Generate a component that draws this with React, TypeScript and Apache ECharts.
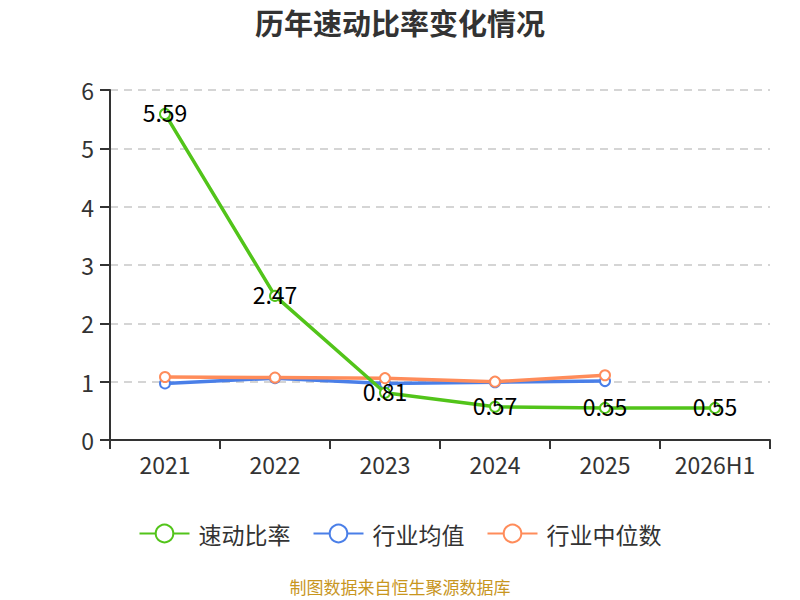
import React, { useEffect, useRef } from "react";
import * as echarts from "echarts";

const categories = ["2021", "2022", "2023", "2024", "2025", "2026H1"];
const quickRatio = [5.59, 2.47, 0.81, 0.57, 0.55, 0.55];
const industryAvg = [0.97, 1.06, 0.97, 0.99, 1.01];
const industryMedian = [1.08, 1.07, 1.06, 1.0, 1.11];
const yTicks = { min: 0, max: 6, interval: 1 };

const FONT = "'Noto Sans CJK SC', 'Noto Sans', sans-serif";

export default function App() {
  const ref = useRef<HTMLDivElement>(null);
  useEffect(() => {
    document.body.style.margin = "0";
    if (!ref.current) return;
    const chart = echarts.init(ref.current, undefined, { renderer: "svg" });
    chart.setOption({
      animation: false,
      textStyle: { fontFamily: FONT },
      title: {
        text: "历年速动比率变化情况",
        left: "center",
        top: 2,
        textStyle: { fontSize: 29, fontWeight: "bold", color: "#333", fontFamily: FONT },
      },
      grid: { left: 110, right: 30, top: 90, bottom: 160 },
      legend: {
        bottom: 50,
        left: "center",
        itemWidth: 50,
        itemHeight: 22,
        itemGap: 22,
        textStyle: { fontSize: 23, color: "#333", fontFamily: FONT, padding: [0, 0, 0, 4] },
        data: ["速动比率", "行业均值", "行业中位数"],
      },
      graphic: [
        {
          type: "text",
          left: "center",
          top: 578,
          style: {
            text: "制图数据来自恒生聚源数据库",
            fill: "#c8961e",
            fontSize: 17,
            fontFamily: FONT,
          },
        },
      ],
      xAxis: {
        type: "category",
        data: categories,
        axisLine: { lineStyle: { color: "#333", width: 2 } },
        axisTick: { show: true, length: 9, lineStyle: { color: "#333", width: 2 } },
        axisLabel: { fontSize: 23, color: "#333", margin: 12, fontFamily: FONT },
      },
      yAxis: {
        type: "value",
        min: yTicks.min,
        max: yTicks.max,
        interval: yTicks.interval,
        axisLine: { show: true, lineStyle: { color: "#333", width: 2 } },
        axisTick: { show: true, length: 10, lineStyle: { color: "#333", width: 2 } },
        axisLabel: { fontSize: 23, color: "#333", margin: 16, fontFamily: FONT },
        splitLine: { lineStyle: { type: [8, 6], color: "#c8c8c8", width: 1.5 } },
      },
      series: [
        {
          name: "速动比率",
          type: "line",
          data: quickRatio,
          symbol: "emptyCircle",
          symbolSize: 10,
          itemStyle: { color: "#52c41a" },
          lineStyle: { width: 3.5, color: "#52c41a" },
          label: {
            show: true,
            position: "inside",
            offset: [0, -2],
            fontSize: 23,
            color: "#000",
            fontFamily: FONT,
          },
          z: 3,
        },
        {
          name: "行业均值",
          type: "line",
          data: industryAvg,
          symbol: "emptyCircle",
          symbolSize: 10,
          itemStyle: { color: "#4a7fe8" },
          lineStyle: { width: 3.5, color: "#4a7fe8" },
          z: 2,
        },
        {
          name: "行业中位数",
          type: "line",
          data: industryMedian,
          symbol: "emptyCircle",
          symbolSize: 10,
          itemStyle: { color: "#ff8c5a" },
          lineStyle: { width: 3.5, color: "#ff8c5a" },
          z: 2,
        },
      ],
    });
    return () => chart.dispose();
  }, []);
  return <div ref={ref} style={{ width: 800, height: 600 }} />;
}
